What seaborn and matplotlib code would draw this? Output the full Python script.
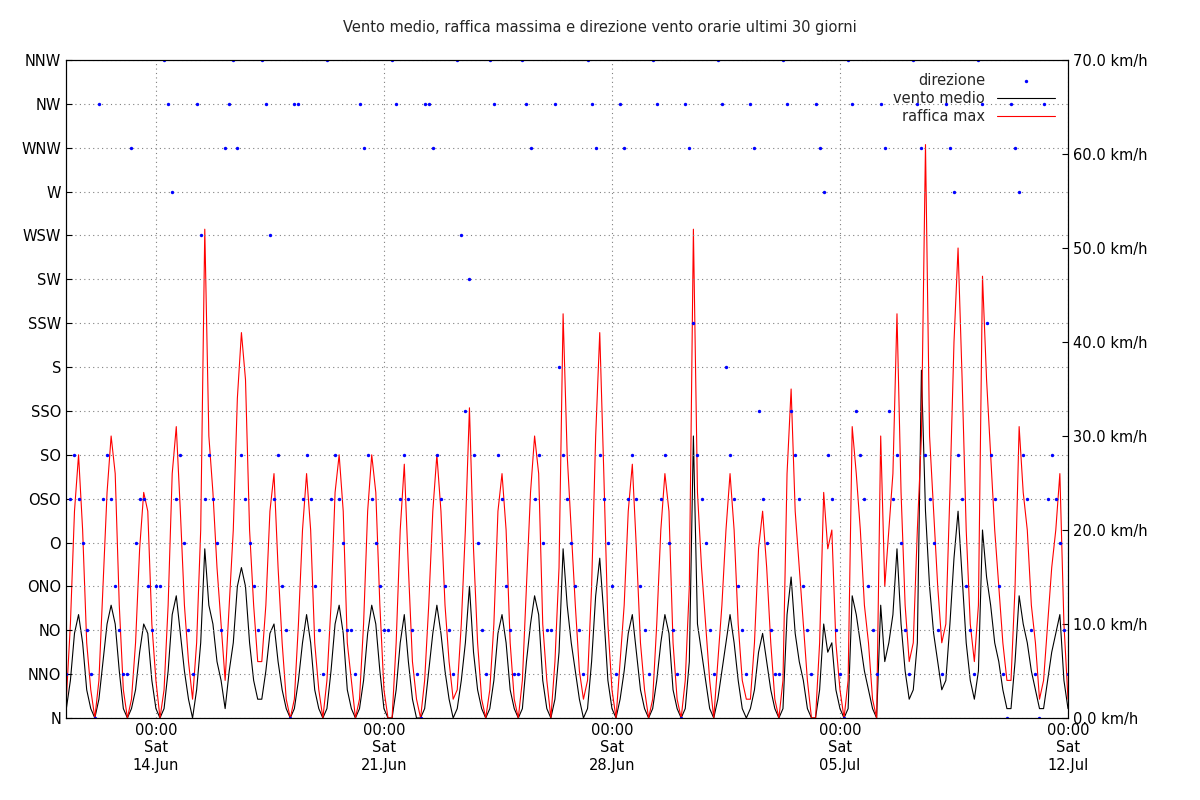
import numpy as np
import pandas as pd
import matplotlib
matplotlib.use("Agg")
import matplotlib.pyplot as plt
import matplotlib.dates as mdates
import seaborn as sns

title = "Vento medio, raffica massima e direzione vento orarie ultimi 30 giorni"
dir_labels = ["N","NNO","NO","ONO","O","OSO","SO","SSO","S","SSW","SW","WSW","W","WNW","NW","NNW"]
speed_ticks = [0,10,20,30,40,50,60,70]
tick_dates = ["2025-06-14","2025-06-21","2025-06-28","2025-07-05","2025-07-12"]
tick_labels = ["00:00\nSat\n14.Jun","00:00\nSat\n21.Jun","00:00\nSat\n28.Jun","00:00\nSat\n05.Jul","00:00\nSat\n12.Jul"]

gust = [
2,10,22,28,20,8,3,0, 4,14,24,30,26,12,3,0, 2,8,18,24,22,10,4,0, 3,12,26,31,22,12,6,2,
8,20,52,30,24,16,10,4, 12,20,34,41,36,20,12,6, 6,12,22,26,16,8,2,0, 2,10,20,26,20,8,3,0,
4,12,24,28,22,8,4,0, 2,10,22,28,24,12,3,0, 0,8,20,27,16,6,2,0, 4,12,22,28,22,12,6,2,
3,10,20,33,18,8,2,0, 3,10,22,26,20,8,2,0, 4,14,24,30,26,10,4,0, 6,16,43,28,20,12,5,2,
4,14,30,41,26,10,3,0, 6,12,22,27,18,8,3,0, 2,10,20,26,22,8,2,0, 4,14,52,24,16,10,4,0,
6,12,20,26,20,10,4,2, 2,8,18,22,16,8,2,0, 4,26,35,22,16,10,4,0, 0,8,24,18,20,8,3,0,
4,31,26,20,12,8,2,0, 30,14,20,26,43,24,12,6, 8,20,30,61,30,22,14,8, 10,24,40,50,36,20,10,6,
12,47,36,28,20,14,8,4, 4,14,31,24,20,12,8,2, 4,10,16,20,26,10,2]
mean = [
1,4,9,11,8,3,1,0, 2,6,10,12,10,5,1,0, 1,3,7,10,9,4,1,0, 1,5,11,13,9,5,2,0,
3,8,18,12,10,6,4,1, 5,8,14,16,14,8,4,2, 2,5,9,10,6,3,1,0, 1,4,8,11,8,3,1,0,
1,5,10,12,9,3,1,0, 1,4,9,12,10,5,1,0, 0,3,8,11,6,2,0,0, 1,5,9,12,9,5,2,0,
1,4,8,14,7,3,1,0, 1,4,9,11,8,3,1,0, 1,6,10,13,11,4,1,0, 2,7,18,12,8,5,2,0,
1,6,13,17,11,4,1,0, 2,5,9,11,7,3,1,0, 1,4,8,11,9,3,1,0, 1,6,30,10,7,4,1,0,
2,5,8,11,8,4,1,0, 1,3,7,9,6,3,1,0, 1,11,15,9,6,4,1,0, 0,3,10,7,8,3,1,0,
1,13,11,8,5,3,1,0, 12,6,8,11,18,10,5,2, 3,8,37,22,14,9,6,3, 4,10,17,22,15,8,4,2,
5,20,15,12,8,6,3,1, 1,6,13,10,8,5,3,1, 1,4,7,9,11,4,1]
direction = [
1,5,6,5,4,2,1,0, 14,5,6,5,3,2,1,1, 13,4,5,5,3,2,3,3, 15,14,12,5,6,4,2,1,
14,11,5,6,5,4,2,13, 14,15,13,6,5,4,3,2, 15,14,11,5,6,3,2,0, 14,14,5,6,5,3,2,1,
15,5,6,5,4,2,2,1, 14,13,6,5,4,3,2,2, 15,14,5,6,5,2,1,0, 14,14,13,6,5,3,2,1,
15,11,7,10,6,4,2,1, 15,14,6,5,3,2,1,1, 15,14,13,5,6,4,2,2, 14,8,6,5,4,3,2,1,
15,14,13,6,5,4,3,1, 14,13,5,6,5,3,2,1, 15,14,5,6,4,2,1,0, 14,13,9,6,5,4,2,1,
15,14,8,6,5,3,2,1, 14,13,7,5,4,2,1,1, 15,14,7,6,5,3,2,1, 14,13,12,6,5,2,1,0,
15,14,7,6,5,3,2,1, 14,13,7,5,6,4,2,1, 15,14,13,6,5,4,2,1, 14,13,12,6,5,3,2,1,
15,14,9,6,5,3,1,0, 14,13,12,6,5,2,1,0, 14,5,6,5,4,2,1]

n = min(len(gust), len(mean), len(direction))
times = pd.date_range("2025-06-11 06:00", periods=n, freq="3h")
df = pd.DataFrame({"t": times, "gust": gust[:n], "mean": mean[:n], "dir": direction[:n]})

sns.set_style("white")
plt.rcParams['font.family'] = ['DejaVu Sans']
fig = plt.figure(figsize=(12, 8), dpi=100)
ax = fig.add_axes([66/1200, 82/800, 1002/1200, 658/800])
ax2 = ax.twinx()

sns.lineplot(data=df, x="t", y="mean", ax=ax, color="black", lw=0.8, label="vento medio")
sns.lineplot(data=df, x="t", y="gust", ax=ax, color="red", lw=0.8, label="raffica max")
sns.scatterplot(data=df, x="t", y="dir", ax=ax2, color="blue", s=6, marker="o", linewidth=0, label="direzione")

ax.set_ylim(0, 70)
ax2.set_ylim(0, 15)
ax.set_xlim(pd.Timestamp("2025-06-11 05:45"), pd.Timestamp("2025-07-12 00:00"))
ax.yaxis.tick_right()
ax.set_yticks(speed_ticks)
ax.set_yticklabels([f"{v:.1f} km/h" for v in speed_ticks])
ax2.yaxis.tick_left()
ax2.set_yticks(range(16))
ax2.set_yticklabels(dir_labels)
ax.set_xticks([mdates.date2num(pd.Timestamp(d)) for d in tick_dates])
ax.set_xticklabels(tick_labels)
for a in (ax, ax2):
    a.set_xlabel(""); a.set_ylabel("")
    a.tick_params(labelsize=10.5, length=4, direction="in", colors="black")
    for s in a.spines.values():
        s.set_color("black"); s.set_linewidth(0.8)
ax.tick_params(axis="y", labelright=True, labelleft=False, right=True, left=False)
ax2.tick_params(axis="y", labelleft=True, labelright=False, left=True, right=False)
ax.grid(axis="x", color="gray", ls=(0, (1, 3)), lw=0.8)
ax2.grid(axis="y", color="gray", ls=(0, (1, 3)), lw=0.8)
ax.set_axisbelow(True)

h1, l1 = ax.get_legend_handles_labels()
h2, l2 = ax2.get_legend_handles_labels()
if ax.get_legend(): ax.get_legend().remove()
if ax2.get_legend(): ax2.get_legend().remove()
ax2.legend(h2 + h1, l2 + l1, loc="upper right", markerfirst=False, frameon=False,
           fontsize=10.5, handlelength=4, borderaxespad=0.5, labelspacing=0.2)
fig.suptitle(title, y=0.975, fontsize=10.5)
fig.savefig("out.png", dpi=100)
